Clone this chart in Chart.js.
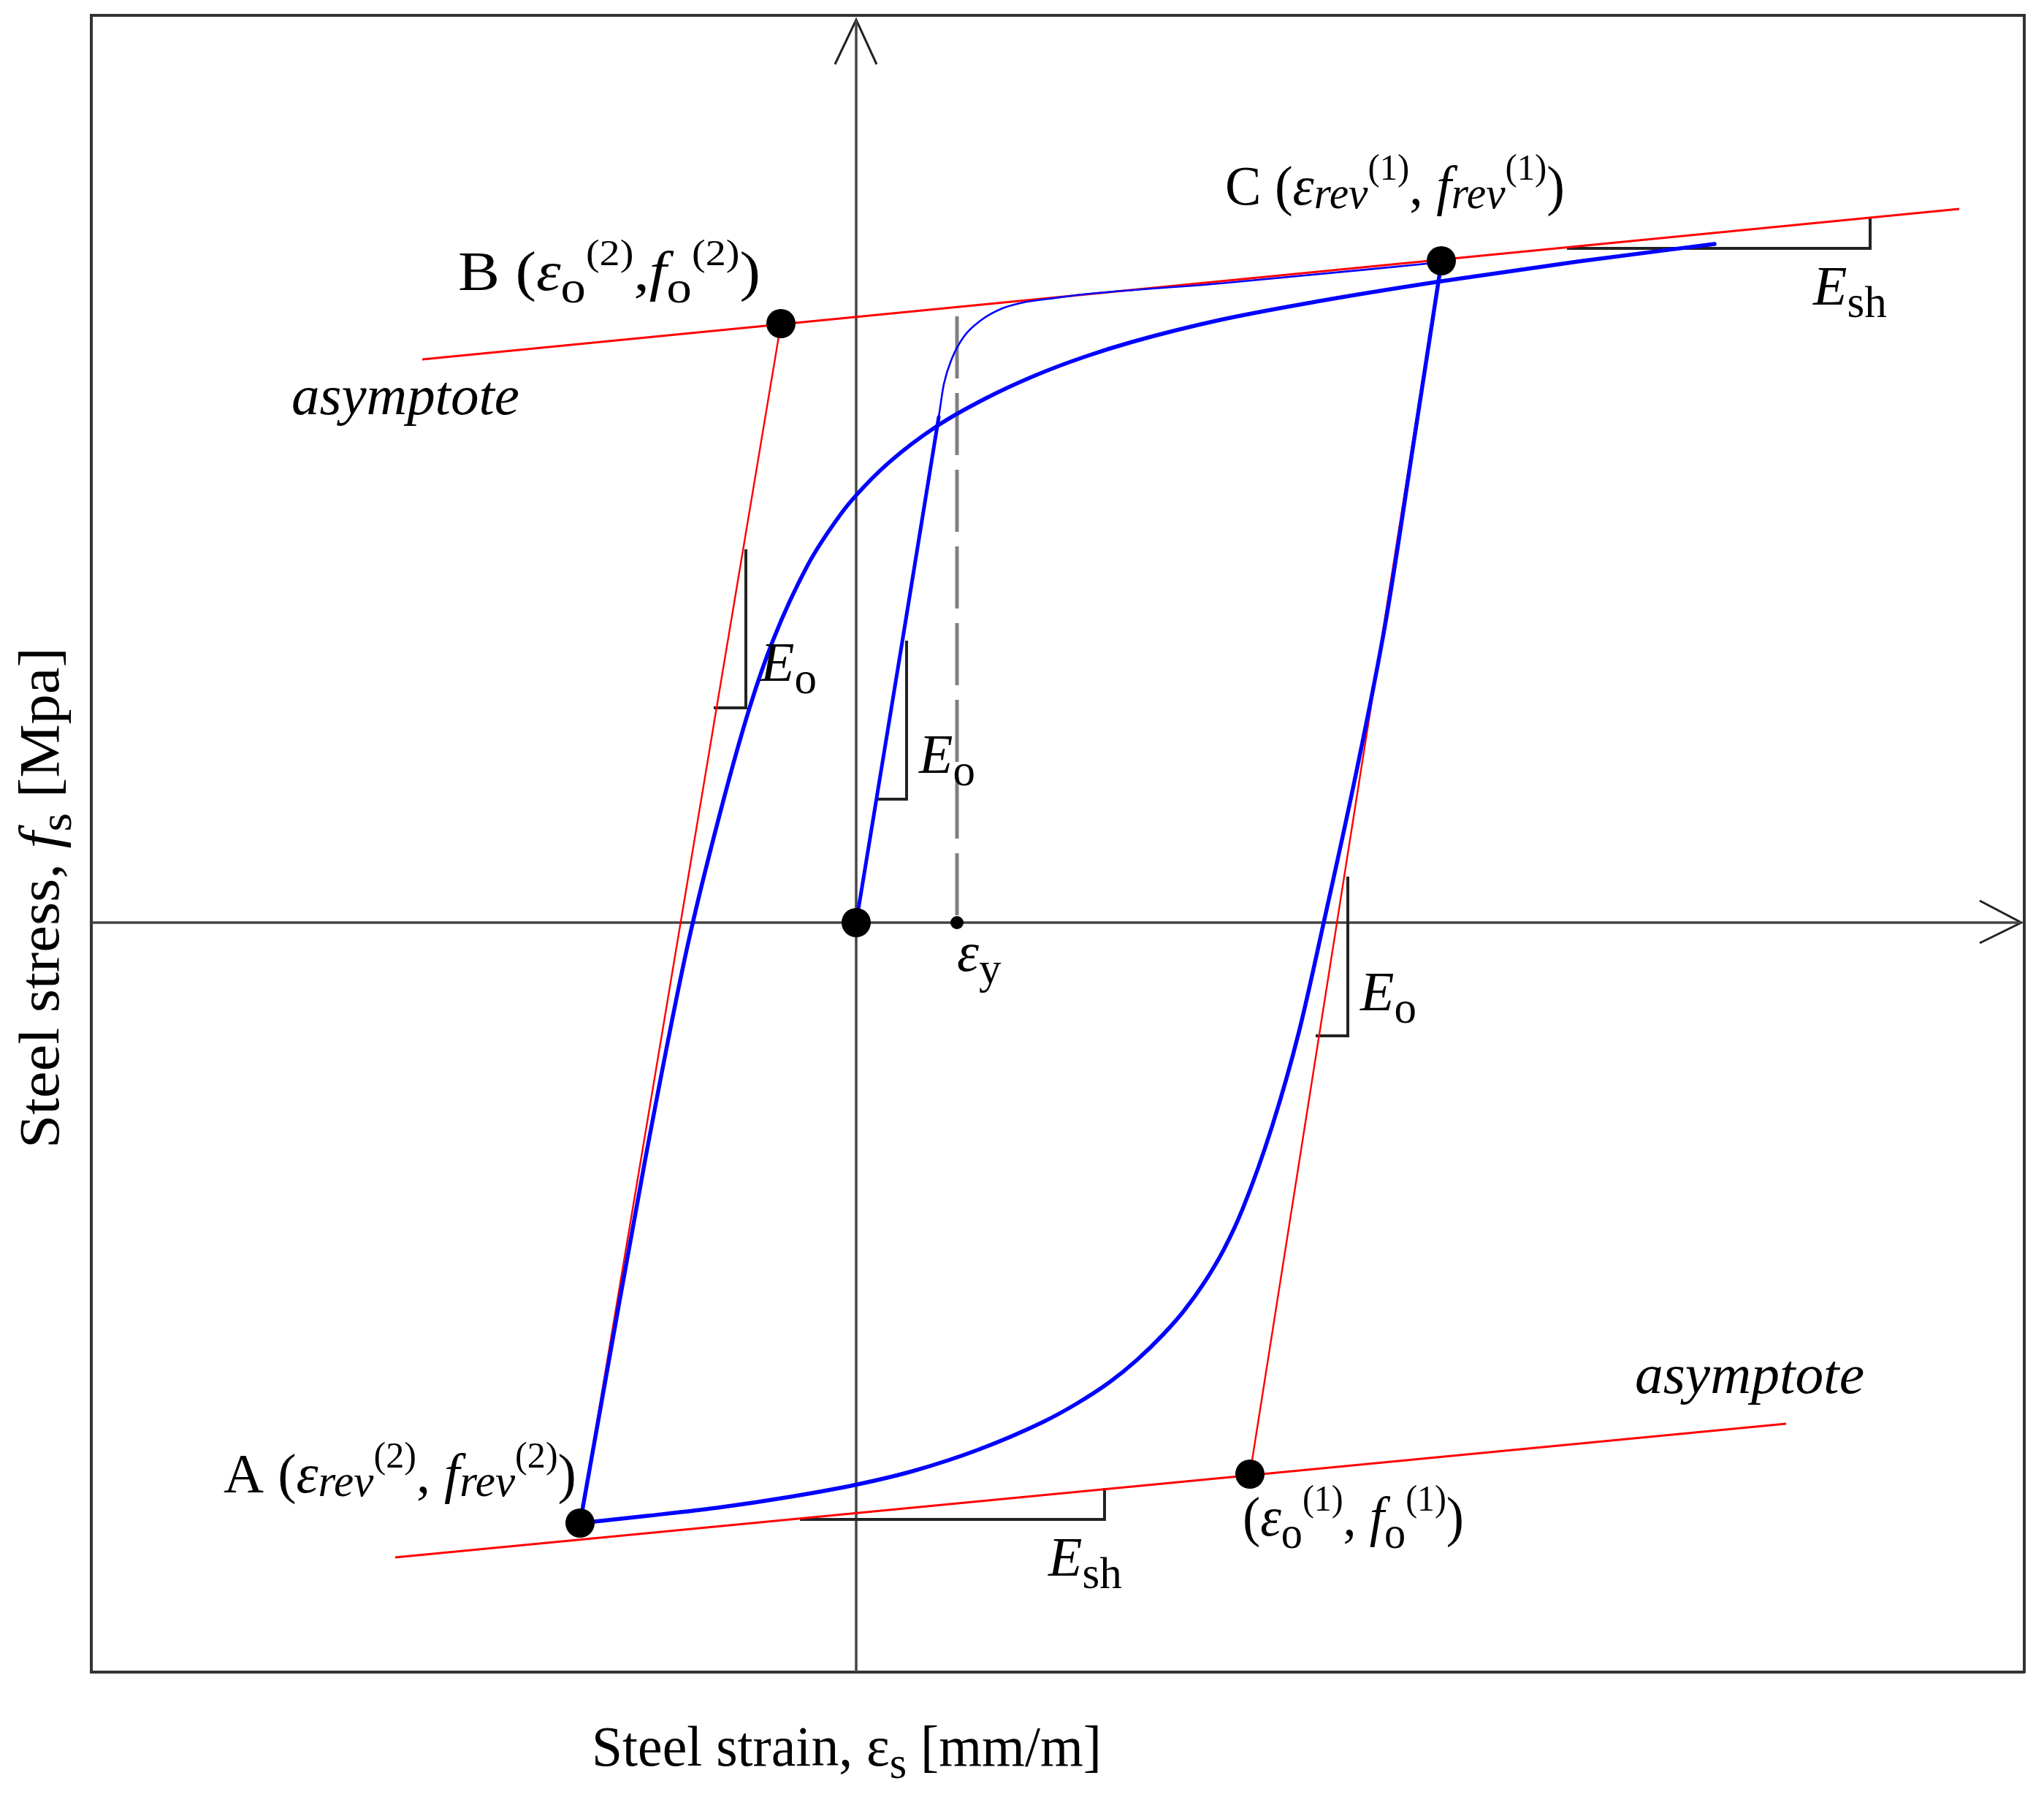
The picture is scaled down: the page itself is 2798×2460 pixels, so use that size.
<!DOCTYPE html>
<html lang="en">
<head>
<meta charset="UTF-8">
<title>Steel stress-strain (cyclic)</title>
<script src="https://cdn.jsdelivr.net/npm/chart.js@4.4.1/dist/chart.umd.min.js"></script>
<style>
  html, body { margin: 0; padding: 0; background: #fff; }
  #wrap { width: 2798px; height: 2460px; }
</style>
</head>
<body>
<div id="wrap"><canvas id="chart" width="2798" height="2460"></canvas></div>

<script>
  // rangos de los ejes (unidades del esquema)
  const strainRange = [-10.47, 15.99];
  const stressRange = [-10.26, 12.42];

  // puntos notables: origen, B, C, A, (eo1, fo1)
  const pointStrain = [0, -1.03, 8.01, -3.78, 5.39];
  const pointStress = [0, 8.20, 9.06, -8.22, -7.55];
  const yieldStrain = 1.38;
  const yieldTop = 8.30;

  // carga inicial (tramo elastico + codo)
  const loadStrain = [0, 0.62, 1.13];
  const loadStress = [0, 3.78, 6.92];
  const kneeStrain = [1.13, 1.20, 1.31, 1.48, 1.70, 1.98, 2.29, 2.64, 3.11, 4.98, 8.01];
  const kneeStress = [6.92, 7.37, 7.72, 8.03, 8.24, 8.40, 8.49, 8.54, 8.60, 8.75, 9.04];

  // descarga C -> A
  const unloadStrain = [8.01, 7.64, 7.25, 6.84, 6.40, 6.06, 5.69, 5.29, 5.03, 4.77, 4.49, 4.21, 3.84, 3.47, 3.01, 2.55, 1.66, 0.77, 0.02, -0.90, -1.90, -2.85, -3.78];
  const unloadStress = [9.03, 6.63, 4.13, 2.03, 0, -1.50, -2.80, -3.92, -4.48, -4.92, -5.31, -5.63, -5.99, -6.29, -6.59, -6.84, -7.22, -7.51, -7.69, -7.86, -8.01, -8.12, -8.22];

  // recarga desde A
  const reloadStrain = [-3.78, -3.38, -2.88, -2.32, -1.85, -1.45, -1.14, -0.66, -0.22, 0, 0.45, 1.11, 1.78, 2.45, 3.11, 3.78, 4.98, 6.35, 8.01, 9.88, 11.75];
  const reloadStress = [-8.22, -5.97, -3.20, -0.37, 1.55, 2.97, 3.86, 4.90, 5.58, 5.85, 6.30, 6.80, 7.18, 7.49, 7.74, 7.95, 8.25, 8.51, 8.78, 9.05, 9.29];

  // asintotas y rectas de pendiente Eo
  const upperAsymStrain = [-5.94, 15.10];
  const upperAsymStress = [7.71, 9.77];
  const lowerAsymStrain = [-6.31, 12.73];
  const lowerAsymStress = [-8.69, -6.86];
  const leftEoStrain = [-1.03, -3.78];
  const leftEoStress = [8.20, -8.22];
  const rightEoStrain = [8.01, 5.39];
  const rightEoStress = [9.06, -7.55];

  // triangulos de pendiente (Eo x3, Esh x2)
  const slopeStrain = [[-1.51, -1.51, -1.95], [0.69, 0.69, 0.27], [6.73, 6.73, 6.29], [9.73, 13.88, 13.88], [-0.77, 3.40, 3.40]];
  const slopeStress = [[5.11, 2.94, 2.94], [3.86, 1.69, 1.69], [0.63, -1.55, -1.55], [9.23, 9.23, 9.66], [-8.17, -8.17, -7.74]];

  // ejes internos con flechas
  const arrowTip = [15.95, 12.36];
  const arrowRightStrain = [15.38, 15.95, 15.38];
  const arrowRightStress = [0.30, 0, -0.28];
  const arrowUpStrain = [-0.29, 0, 0.28];
  const arrowUpStress = [11.75, 12.36, 11.75];

  const FAM = "'Liberation Serif', 'Times New Roman', serif";

  // textos: [texto, tipo] n normal, i italica, s subindice, r subindice italico, p superindice
  const notes = [
    { x: 5.05, y: 9.83, w: 465, runs: [['C (', 'n'], ['ε', 'i'], ['rev', 'r'], ['(1)', 'p'], [', ', 'n'], ['f', 'i'], ['rev', 'r'], ['(1)', 'p'], [')', 'n']] },
    { x: -5.45, y: 8.66, w: 414, runs: [['B (', 'n'], ['ε', 'i'], ['o', 's'], ['(2)', 'p'], [',', 'n'], ['f', 'i'], ['o', 's'], ['(2)', 'p'], [')', 'n']] },
    { x: -8.66, y: -7.80, w: 483, runs: [['A (', 'n'], ['ε', 'i'], ['rev', 'r'], ['(2)', 'p'], [', ', 'n'], ['f', 'i'], ['rev', 'r'], ['(2)', 'p'], [')', 'n']] },
    { x: 5.29, y: -8.39, w: 303, runs: [['(', 'n'], ['ε', 'i'], ['o', 's'], ['(1)', 'p'], [', ', 'n'], ['f', 'i'], ['o', 's'], ['(1)', 'p'], [')', 'n']] },
    { x: -7.73, y: 6.96, w: 312, runs: [['asymptote', 'i']] },
    { x: 10.66, y: -6.44, w: 314, runs: [['asymptote', 'i']] },
    { x: 13.10, y: 8.46, runs: [['E', 'i'], ['sh', 's']] },
    { x: 2.63, y: -8.94, runs: [['E', 'i'], ['sh', 's']] },
    { x: -1.31, y: 3.31, runs: [['E', 'i'], ['o', 's']] },
    { x: 0.86, y: 2.05, runs: [['E', 'i'], ['o', 's']] },
    { x: 6.90, y: -1.20, runs: [['E', 'i'], ['o', 's']] },
    { x: 1.38, y: -0.66, runs: [['ε', 'i'], ['y', 's']] }
  ];

  function runStyle(k, F) {
    if (k === 's') return { font: Math.round(F * 0.8) + 'px ' + FAM, dy: F * 0.22 };
    if (k === 'r') return { font: 'italic ' + Math.round(F * 0.8) + 'px ' + FAM, dy: F * 0.06 };
    if (k === 'p') return { font: Math.round(F * 0.66) + 'px ' + FAM, dy: -F * 0.45 };
    if (k === 'i') return { font: 'italic ' + F + 'px ' + FAM, dy: 0 };
    return { font: F + 'px ' + FAM, dy: 0 };
  }

  function runsWidth(ctx, runs, F) {
    let w = 0;
    runs.forEach(([t, k]) => { ctx.font = runStyle(k, F).font; w += ctx.measureText(t).width; });
    return w;
  }

  function drawRuns(ctx, runs, x, y, F, w) {
    const nat = runsWidth(ctx, runs, F);
    const sx = w ? w / nat : 1;
    ctx.save();
    ctx.translate(x, y);
    ctx.scale(sx, 1);
    let cx = 0;
    runs.forEach(([t, k]) => {
      const st = runStyle(k, F);
      ctx.font = st.font;
      ctx.fillText(t, cx, st.dy);
      cx += ctx.measureText(t).width;
    });
    ctx.restore();
  }

  const textPlugin = {
    id: 'textos',
    afterDatasetsDraw(chart) {
      const { ctx, scales: { x, y } } = chart;
      ctx.save();
      ctx.fillStyle = '#000';
      ctx.textBaseline = 'alphabetic';
      notes.forEach(n => drawRuns(ctx, n.runs, x.getPixelForValue(n.x), y.getPixelForValue(n.y), 76, n.w));

      // titulo eje x
      const xt = [['Steel strain, ', 'n'], ['ε', 'n'], ['s', 's'], [' [mm/m]', 'n']];
      drawRuns(ctx, xt, 1159 - 349, 2417, 78, 698);

      // titulo eje y (girado)
      const yt = [['Steel stress, ', 'n'], ['f', 'i'], ['s', 's'], [' [Mpa]', 'n']];
      ctx.save();
      ctx.translate(80, 1229);
      ctx.rotate(-Math.PI / 2);
      drawRuns(ctx, yt, -343, 0, 78, 686);
      ctx.restore();
      ctx.restore();
    }
  };

  const pts = (xs, ys) => xs.map((v, i) => ({ x: v, y: ys[i] }));

  function line(xs, ys, color, width, order, extra) {
    return Object.assign({
      data: pts(xs, ys), showLine: true, borderColor: color, borderWidth: width,
      pointRadius: 0, fill: false, order: order
    }, extra || {});
  }

  const curve = { cubicInterpolationMode: 'monotone', borderCapStyle: 'round', borderJoinStyle: 'round' };

  const datasets = [
    // ejes
    line([strainRange[0], arrowTip[0]], [0, 0], '#454545', 3.5, 6),
    line([0, 0], [stressRange[0], arrowTip[1]], '#454545', 3.5, 6),
    line(arrowRightStrain, arrowRightStress, '#222', 3, 6),
    line(arrowUpStrain, arrowUpStress, '#222', 3, 6),
    line([yieldStrain, yieldStrain], [yieldTop, 0], '#808080', 5, 6, { borderDash: [85, 20] })
  ];
  slopeStrain.forEach((xs, i) => datasets.push(line(xs, slopeStress[i], '#222', 4, 5, { borderJoinStyle: 'miter' })));
  datasets.push(
    line(upperAsymStrain, upperAsymStress, '#ff0000', 3, 4),
    line(lowerAsymStrain, lowerAsymStress, '#ff0000', 3, 4),
    line(leftEoStrain, leftEoStress, '#ff0000', 2.4, 4),
    line(rightEoStrain, rightEoStress, '#ff0000', 2.4, 4),
    line(loadStrain, loadStress, '#0000ff', 5, 3, curve),
    line(kneeStrain, kneeStress, '#0000ff', 2.6, 3, curve),
    line(unloadStrain, unloadStress, '#0000ff', 5.5, 3, curve),
    line(reloadStrain, reloadStress, '#0000ff', 5.5, 3, curve),
    { data: pts(pointStrain, pointStress), pointRadius: 20, pointBackgroundColor: '#000', pointBorderWidth: 0, order: 0 },
    { data: [{ x: yieldStrain, y: 0 }], pointRadius: 9, pointBackgroundColor: '#000', pointBorderWidth: 0, order: 0 }
  );

  const hidden = { display: false, drawTicks: false };
  const frame = { display: true, color: '#333', width: 4 };

  new Chart(document.getElementById('chart'), {
    type: 'scatter',
    data: { datasets },
    options: {
      responsive: false,
      animation: false,
      layout: { padding: { left: 125, top: 21, right: 27, bottom: 171 } },
      plugins: { legend: { display: false }, tooltip: { enabled: false } },
      scales: {
        x: { type: 'linear', min: strainRange[0], max: strainRange[1], grid: hidden, ticks: { display: false }, border: frame },
        y: { type: 'linear', min: stressRange[0], max: stressRange[1], grid: hidden, ticks: { display: false }, border: frame },
        x2: { type: 'linear', position: 'top', min: 0, max: 1, grid: hidden, ticks: { display: false }, border: frame },
        y2: { type: 'linear', position: 'right', min: 0, max: 1, grid: hidden, ticks: { display: false }, border: frame }
      }
    },
    plugins: [textPlugin]
  });
</script>
</body>
</html>
